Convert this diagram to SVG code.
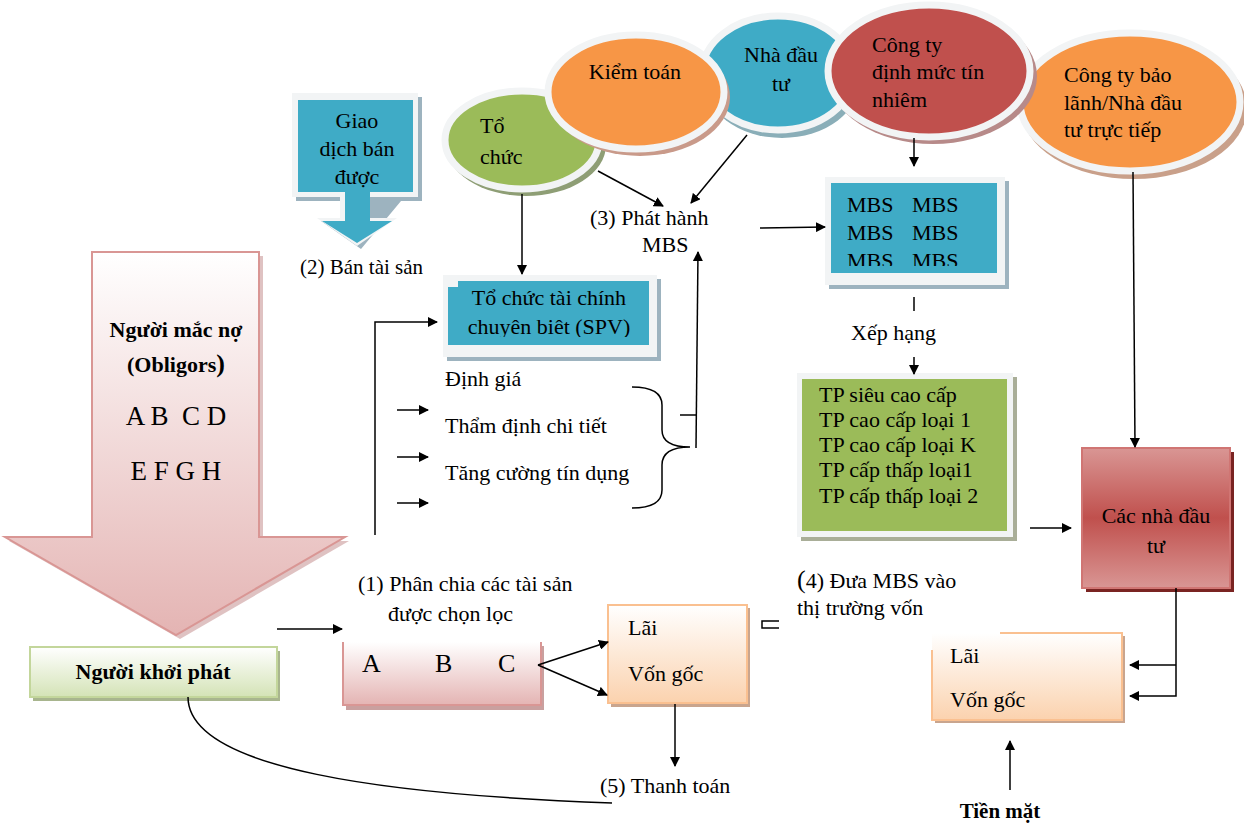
<svg xmlns="http://www.w3.org/2000/svg" width="1244" height="825" viewBox="0 0 1244 825">
<defs>
<style>
text{font-family:"Liberation Serif","Times New Roman",serif;font-size:22px;fill:#000}
.b{font-weight:bold}
.c{text-anchor:middle}
.ln{fill:none;stroke:#000;stroke-width:1.5}
.rim{stroke:#F2F4F5;stroke-width:7}
</style>
<marker id="ah" viewBox="0 0 10 10" refX="9" refY="5" markerWidth="10" markerHeight="10" markerUnits="userSpaceOnUse" orient="auto">
<path d="M0,0 L10,5 L0,10 Z" fill="#000"/>
</marker>
<linearGradient id="gPink" x1="0" y1="0" x2="0" y2="1"><stop offset="0" stop-color="#FFFFFF"/><stop offset="1" stop-color="#E4B4B3"/></linearGradient>
<linearGradient id="gGreen" x1="0" y1="0" x2="0" y2="1"><stop offset="0" stop-color="#FFFFFF"/><stop offset="1" stop-color="#D4E3B6"/></linearGradient>
<linearGradient id="gOrange" x1="0" y1="0" x2="0" y2="1"><stop offset="0" stop-color="#FFFFFF"/><stop offset="1" stop-color="#FBD2AE"/></linearGradient>
<linearGradient id="gRed" x1="0" y1="0" x2="0" y2="1"><stop offset="0" stop-color="#D99694"/><stop offset="0.5" stop-color="#C0504D"/><stop offset="1" stop-color="#D99694"/></linearGradient>
<clipPath id="cMBS"><rect x="831" y="183" width="166" height="83"/></clipPath>
<clipPath id="cSPV"><rect x="448" y="281" width="201" height="56"/></clipPath>
</defs>

<!-- Big pink arrow: debtors -->
<g id="obligors">
<path d="M96,256 H263 V541 H349 L180,639 L9,541 H96 Z" fill="#C99A99" opacity="0.6"/>
<path d="M92,252 H259 V537 H345 L176,635 L5,537 H92 Z" fill="url(#gPink)" stroke="#D99694" stroke-width="2"/>
<text class="b c" x="176" y="337">Người mắc nợ</text>
<text class="b c" x="176" y="372">(Obligors<tspan style="font-size:26px">)</tspan></text>
<text class="c" x="176" y="425" style="font-size:27px" xml:space="preserve">A B  C D</text>
<text class="c" x="176" y="480" style="font-size:27px">E F G H</text>
</g>

<!-- Người khởi phát -->
<g id="originator">
<rect x="33" y="651" width="247" height="50" fill="#A8B58E"/>
<rect x="30" y="647" width="247" height="50" fill="url(#gGreen)" stroke="#C3D69B" stroke-width="2"/>
<text class="b c" x="153" y="679">Người khởi phát</text>
</g>

<!-- Giao dịch bán được -->
<g id="sale">
<path d="M296,97 H422 V201 H401 L361,249 L321,221 H343 V201 H296 Z" fill="#9DB3BF"/>
<path d="M292,93 H418 V197 H370 V218 H397 L357,246 L317,218 H340 V197 H292 Z" fill="#F2F4F5"/>
<path d="M298,100 H413 V192 H370 V221 H392 L357,243 L322,221 H345 V192 H298 Z" fill="#3FABC6"/>
<text class="c" x="357" y="128">Giao</text>
<text class="c" x="357" y="156">dịch bán</text>
<text class="c" x="357" y="184">được</text>
</g>
<text x="300" y="274" style="font-size:21px">(2) Bán tài sản</text>

<!-- Ellipses -->
<g id="tochuc">
<ellipse cx="526" cy="145" rx="80" ry="51" fill="#8E9E75"/>
<ellipse cx="522" cy="140" rx="77" ry="49" fill="#9BBB59" class="rim"/>
<text x="480" y="133">Tổ</text>
<text x="480" y="164">chức</text>
</g>
<g id="nhadautu">
<ellipse cx="782" cy="78" rx="79" ry="60" fill="#8AAEB8"/>
<ellipse cx="778" cy="73" rx="76" ry="57" fill="#3FABC6" class="rim"/>
<text class="c" x="781" y="62">Nhà đầu</text>
<text class="c" x="781" y="91">tư</text>
</g>
<g id="kiemtoan">
<ellipse cx="640" cy="97" rx="90" ry="59" fill="#C99A8A"/>
<ellipse cx="636" cy="92" rx="88" ry="57" fill="#F79646" class="rim"/>
<text class="c" x="635" y="79">Kiểm toán</text>
</g>
<g id="baolanh">
<ellipse cx="1134" cy="108" rx="113" ry="71" fill="#C9A08A"/>
<ellipse cx="1130" cy="102" rx="110" ry="69" fill="#F79646" class="rim"/>
<text x="1064" y="82">Công ty bảo</text>
<text x="1064" y="110">lãnh/Nhà đầu</text>
<text x="1064" y="137">tư trực tiếp</text>
</g>
<g id="dinhmuc">
<ellipse cx="933" cy="76" rx="104" ry="68" fill="#B78A89"/>
<ellipse cx="929" cy="71" rx="101" ry="66" fill="#C0504D" class="rim"/>
<text x="872" y="52">Công ty</text>
<text x="872" y="79">định mức tín</text>
<text x="872" y="107">nhiêm</text>
</g>

<!-- SPV -->
<g id="spv">
<rect x="447" y="279" width="214" height="82" fill="#9DB3BF"/>
<rect x="443" y="275" width="214" height="82" fill="#F2F4F5"/>
<rect x="448" y="281" width="201" height="64" fill="#3FABC6"/>
<rect x="443" y="275" width="15" height="12" fill="#F2F4F5"/>
<text class="c" x="549" y="305">Tổ chức tài chính</text>
<text class="c" x="549" y="334" clip-path="url(#cSPV)">chuyên biêt (SPV)</text>
</g>

<text x="590" y="225">(3) Phát hành</text>
<text x="642" y="252">MBS</text>

<!-- MBS box -->
<g id="mbs">
<rect x="829" y="181" width="180" height="108" fill="#9DB3BF"/>
<rect x="825" y="177" width="180" height="108" fill="#F2F4F5"/>
<rect x="831" y="183" width="166" height="90" fill="#3FABC6"/>
<g clip-path="url(#cMBS)">
<text x="847" y="212">MBS</text><text x="912" y="212">MBS</text>
<text x="847" y="240">MBS</text><text x="912" y="240">MBS</text>
<text x="847" y="268">MBS</text><text x="912" y="268">MBS</text>
</g>
</g>

<text x="851" y="340">Xếp hạng</text>

<!-- TP box -->
<g id="tp">
<rect x="801" y="377" width="216" height="164" fill="#A9AE98"/>
<rect x="797" y="373" width="216" height="164" fill="#F2F4F5"/>
<rect x="802" y="379" width="205" height="152" fill="#9BBB59"/>
<text x="819" y="402">TP siêu cao cấp</text>
<text x="819" y="427">TP cao cấp loại 1</text>
<text x="819" y="452">TP cao cấp loại K</text>
<text x="819" y="477">TP cấp thấp loại1</text>
<text x="819" y="503">TP cấp thấp loại 2</text>
</g>

<!-- Các nhà đầu tư -->
<g id="investors">
<rect x="1086" y="452" width="148" height="140" fill="#7A2422"/>
<rect x="1082" y="448" width="148" height="140" fill="url(#gRed)" stroke="#D07573" stroke-width="2"/>
<text class="c" x="1156" y="523">Các nhà đầu</text>
<text class="c" x="1156" y="553">tư</text>
</g>

<!-- SPV tasks -->
<text x="445" y="386">Định giá</text>
<text x="445" y="433">Thẩm định chi tiết</text>
<text x="445" y="480">Tăng cường tín dụng</text>

<!-- Assets box ABC -->
<text x="358" y="591">(1) Phân chia các tài sản</text>
<text x="388" y="621">được chọn lọc</text>
<g id="assets">
<rect x="346" y="646" width="198" height="64" fill="#C9A09F"/>
<rect x="343" y="642" width="198" height="63" fill="url(#gPink)"/>
<path d="M343,642 V705 H541 V642" fill="none" stroke="#D99694" stroke-width="2"/>
<text x="362" y="672" style="font-size:26px">A</text>
<text x="435" y="672" style="font-size:26px">B</text>
<text x="498" y="672" style="font-size:26px">C</text>
</g>

<!-- Lãi / Vốn gốc left -->
<g id="payments1">
<rect x="611" y="608" width="139" height="99" fill="#C9A58E"/>
<rect x="608" y="605" width="139" height="98" fill="url(#gOrange)" stroke="#FAC090" stroke-width="2"/>
<text x="628" y="635">Lãi</text>
<text x="628" y="681">Vốn gốc</text>
</g>

<text x="600" y="793">(5) Thanh toán</text>
<text x="797" y="588"><tspan style="font-size:26px">(</tspan>4) Đưa MBS vào</text>
<text x="797" y="615">thị trường vốn</text>

<!-- Lãi / Vốn gốc right -->
<g id="payments2">
<rect x="935" y="636" width="190" height="87" fill="#C9A58E"/>
<rect x="932" y="633" width="190" height="87" fill="url(#gOrange)"/>
<path d="M1000,633 H1122 V720 H932 V650" fill="none" stroke="#FAC090" stroke-width="2"/>
<text x="950" y="663">Lãi</text>
<text x="950" y="707">Vốn gốc</text>
</g>

<text class="b c" x="1000" y="818" style="font-size:21px">Tiền mặt</text>

<!-- Connectors -->
<g id="connectors">
<line class="ln" x1="522" y1="194" x2="522" y2="274" marker-end="url(#ah)"/>
<line class="ln" x1="598" y1="171" x2="663" y2="206" marker-end="url(#ah)"/>
<line class="ln" x1="747" y1="135" x2="691" y2="203" marker-end="url(#ah)"/>
<line class="ln" x1="760" y1="228" x2="825" y2="227" marker-end="url(#ah)"/>
<line class="ln" x1="914" y1="138" x2="914" y2="166" marker-end="url(#ah)"/>
<line class="ln" x1="914" y1="297" x2="914" y2="311"/>
<line class="ln" x1="914" y1="357" x2="914" y2="374" marker-end="url(#ah)"/>
<line class="ln" x1="1133" y1="172" x2="1135" y2="447" marker-end="url(#ah)"/>
<line class="ln" x1="1030" y1="528" x2="1071" y2="528" marker-end="url(#ah)"/>
<path class="ln" d="M1176,588 V696 H1130" marker-end="url(#ah)"/>
<path class="ln" d="M1176,665 H1130" marker-end="url(#ah)"/>
<line class="ln" x1="1010" y1="790" x2="1010" y2="741" marker-end="url(#ah)"/>
<path class="ln" d="M375,535 V322 H437" marker-end="url(#ah)"/>
<line class="ln" x1="397" y1="410" x2="428" y2="410" marker-end="url(#ah)"/>
<line class="ln" x1="397" y1="457" x2="428" y2="457" marker-end="url(#ah)"/>
<line class="ln" x1="397" y1="503" x2="428" y2="503" marker-end="url(#ah)"/>
<path class="ln" d="M632,387 Q662,387 662,405 V430 Q662,447 690,447 Q662,447 662,465 V490 Q662,508 632,508"/>
<line class="ln" x1="680" y1="415" x2="696" y2="415"/>
<line class="ln" x1="696" y1="448" x2="698" y2="252" marker-end="url(#ah)"/>
<line class="ln" x1="277" y1="629" x2="342" y2="629" marker-end="url(#ah)"/>
<line class="ln" x1="538" y1="665" x2="608" y2="642" marker-end="url(#ah)"/>
<line class="ln" x1="538" y1="665" x2="607" y2="695" marker-end="url(#ah)"/>
<line class="ln" x1="675" y1="704" x2="675" y2="766" marker-end="url(#ah)"/>
<path class="ln" d="M188,697 C188,770 390,795 612,803"/>
<path d="M779,621 H762 V628 H779" fill="none" stroke="#000" stroke-width="1.5"/>
</g>
</svg>
